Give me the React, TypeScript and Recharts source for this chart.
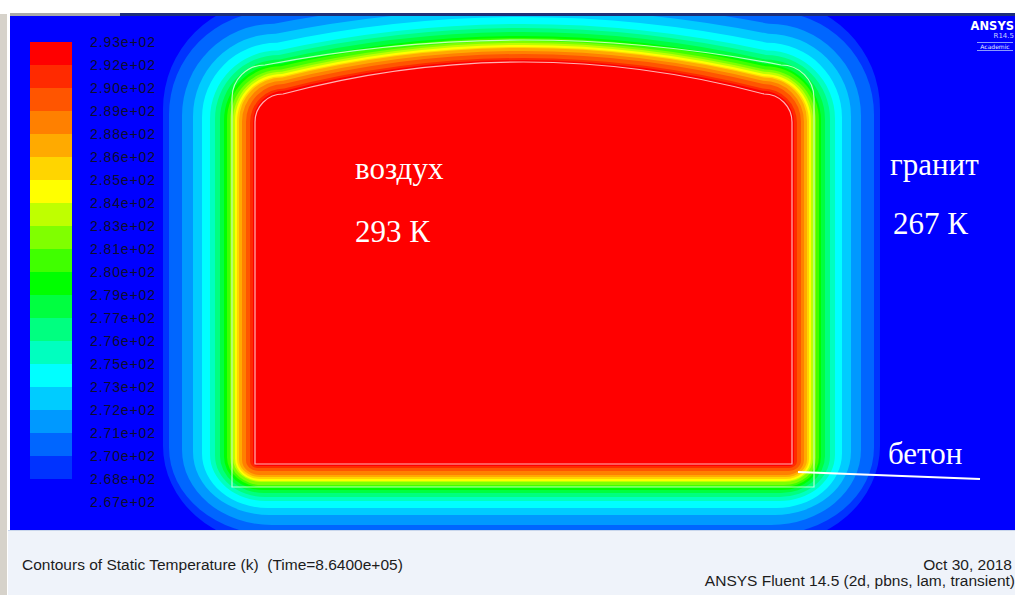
import React from 'react'
import { ComposedChart, BarChart, Bar, XAxis, YAxis, ReferenceArea, ReferenceLine } from 'recharts'

// contour bands, hottest first; outer edge of each band in picture coordinates
const bandColors = [
  '#ff0000', '#ff2a00', '#ff5500', '#ff8000', '#ffaa00', '#ffd500', '#ffff00',
  '#bfff00', '#80ff00', '#40ff00', '#00ff00', '#00ff40', '#00ff80', '#00ffbf',
  '#00ffff', '#00ccff', '#0099ff', '#0066ff', '#0033ff',
]
const bandLeft = [253, 250, 246, 242, 239, 237, 235, 233, 230, 227, 224, 220, 215, 210, 202, 193, 182, 169, 163]
const bandRight = [794, 797, 801, 804, 807, 809, 811, 813, 816, 819, 821, 825, 830, 835, 842, 851, 861, 874, 880]
const bandTop = [60, 58, 54, 51, 48, 47, 45, 43, 41, 38, 36, 32, 28, 24, 17, 9, 0, -11, -21]
const bandBottom = [466, 468, 471, 475, 477, 479, 481, 482, 485, 487, 490, 493, 497, 501, 508, 515, 525, 535, 545]

// air / concrete boundaries (white outlines)
const wallLeft = [255, 232]
const wallRight = [792, 814]
const wallTop = [62, 40]
const wallBottom = [464, 487]

const legendLabels = [
  '2.93e+02', '2.92e+02', '2.90e+02', '2.89e+02', '2.88e+02', '2.86e+02', '2.85e+02',
  '2.84e+02', '2.83e+02', '2.81e+02', '2.80e+02', '2.79e+02', '2.77e+02', '2.76e+02',
  '2.75e+02', '2.73e+02', '2.72e+02', '2.71e+02', '2.70e+02', '2.68e+02', '2.67e+02',
]
const legendColors = [...bandColors, '#0000ff']
const legendRow = [Object.fromEntries(legendColors.map((c, i) => [`b${i}`, 1]))]
const legendTicks = legendLabels.map((_, i) => i)

const pointer = [{ x: 798, y: 472 }, { x: 980, y: 479 }]

const airLeft = wallLeft[0]
const airBottom = wallBottom[0]

function tunnelPath(x: number, y: number, w: number, h: number, rtx: number, rty: number, sag: number, rbx: number, rby: number) {
  const b = y + h
  const r = x + w
  return [
    `M${x},${b - rby}`,
    `L${x},${y + sag + rty}`,
    `A${rtx},${rty} 0 0 1 ${x + rtx},${y + sag}`,
    `Q${x + w / 2},${y - sag} ${r - rtx},${y + sag}`,
    `A${rtx},${rty} 0 0 1 ${r},${y + sag + rty}`,
    `L${r},${b - rby}`,
    rbx > 0 ? `A${rbx},${rby} 0 0 1 ${r - rbx},${b}` : '',
    `L${x + rbx},${b}`,
    rbx > 0 ? `A${rbx},${rby} 0 0 1 ${x},${b - rby}` : '',
    'Z',
  ].join(' ')
}

const bandShape = (k: number) => (p: any) => {
  const sx = p.width / (bandRight[k] - bandLeft[k])
  const sy = p.height / (bandBottom[k] - bandTop[k])
  const dx = (airLeft - bandLeft[k]) * sx
  const db = (bandBottom[k] - airBottom) * sy
  const rt = 30 + 0.85 * dx
  const sag = 31 - 0.1 * dx
  return <path d={tunnelPath(p.x, p.y, p.width, p.height, rt, rt, sag, 2 + 1.2 * dx, 2 + 1.2 * db)} fill={bandColors[k]} />
}

const wallShape = (k: number) => (p: any) => {
  const rt = k === 0 ? 28 : 33
  const sag = k === 0 ? 32 : 25
  return (
    <path
      d={tunnelPath(p.x, p.y, p.width, p.height, rt, rt, sag, 0, 0)}
      fill="none"
      stroke="#ffffff"
      strokeOpacity={0.7}
      strokeWidth={1.2}
    />
  )
}

const sansFont = 'Liberation Sans, Arial, sans-serif'
const serif = { position: 'absolute' as const, color: '#fff', fontFamily: 'Liberation Serif, DejaVu Serif, serif', fontSize: 31, lineHeight: '31px', whiteSpace: 'nowrap' as const }
const sans = { position: 'absolute' as const, color: '#1c1c1c', fontFamily: sansFont, fontSize: 15.5, lineHeight: '16px', whiteSpace: 'pre' as const }

export default function App() {
  return (
    <div style={{ position: 'absolute', left: 0, top: 0, width: 1015, height: 595, background: '#ffffff', overflow: 'hidden' }}>
      <div style={{ position: 'absolute', left: 0, top: 14, width: 7, height: 581, background: '#d6d2ca' }} />
      <div style={{ position: 'absolute', left: 10, top: 13, width: 1005, height: 3, background: '#1e2f78' }} />
      <div style={{ position: 'absolute', left: 10, top: 13, width: 110, height: 3, background: '#a9a9a9' }} />

      <div style={{ position: 'absolute', left: 10, top: 16, width: 1005, height: 514, overflow: 'hidden', background: '#0000ff' }}>
        <ComposedChart width={1005} height={514} margin={{ top: 0, right: 0, bottom: 0, left: 0 }}>
          <XAxis type="number" dataKey="x" domain={[10, 1015]} hide allowDataOverflow />
          <YAxis type="number" dataKey="y" domain={[16, 530]} reversed hide allowDataOverflow />
          {bandColors.map((_, i) => bandColors.length - 1 - i).map((k) => (
            <ReferenceArea
              key={`band-${k}`}
              x1={bandLeft[k]}
              x2={bandRight[k]}
              y1={bandTop[k]}
              y2={bandBottom[k]}
              ifOverflow="visible"
              shape={bandShape(k)}
            />
          ))}
          {wallLeft.map((_, k) => (
            <ReferenceArea
              key={`wall-${k}`}
              x1={wallLeft[k]}
              x2={wallRight[k]}
              y1={wallTop[k]}
              y2={wallBottom[k]}
              ifOverflow="visible"
              shape={wallShape(k)}
            />
          ))}
          <ReferenceLine segment={pointer} stroke="#ffffff" strokeWidth={2} ifOverflow="visible" />
        </ComposedChart>
      </div>

      <div style={{ position: 'absolute', left: 30, top: 32, fontFamily: sansFont }}>
        <BarChart width={160} height={480} data={legendRow} margin={{ top: 10, right: 0, bottom: 10, left: 0 }} barCategoryGap={0}>
          <XAxis hide />
          <YAxis
            orientation="right"
            type="number"
            domain={[0, 20]}
            ticks={legendTicks}
            interval={0}
            width={118}
            tickLine={false}
            axisLine={false}
            tickMargin={12}
            tickFormatter={(v: number) => legendLabels[20 - v]}
            tick={{ fill: '#0e0e2e', fontSize: 14, fontFamily: sansFont, letterSpacing: 0.9 }}
          />
          {legendColors.map((_, i) => legendColors.length - 1 - i).map((k) => (
            <Bar key={k} dataKey={`b${k}`} stackId="a" fill={legendColors[k]} isAnimationActive={false} />
          ))}
        </BarChart>
      </div>

      <div style={{ ...serif, left: 355, top: 153 }}>воздух</div>
      <div style={{ ...serif, left: 355, top: 216 }}>293 К</div>
      <div style={{ ...serif, left: 890, top: 149 }}>гранит</div>
      <div style={{ ...serif, left: 893, top: 208 }}>267 К</div>
      <div style={{ ...serif, left: 888, top: 438 }}>бетон</div>

      <div style={{ position: 'absolute', right: 1, top: 20, color: '#fff', fontFamily: 'DejaVu Sans, sans-serif', fontWeight: 700, fontSize: 11.5, lineHeight: '13px' }}>ANSYS</div>
      <div style={{ position: 'absolute', right: 1, top: 32, color: '#c9d2ff', fontFamily: 'DejaVu Sans, sans-serif', fontSize: 7, lineHeight: '8px' }}>R14.5</div>
      <div style={{ position: 'absolute', left: 977, top: 42, width: 36, textAlign: 'center', color: '#e6ebff', fontFamily: 'DejaVu Sans, sans-serif', fontSize: 6, lineHeight: '7px', borderTop: '1px solid #8a9bff', borderBottom: '1px solid #8a9bff' }}>Academic</div>

      <div style={{ position: 'absolute', left: 8, top: 530, width: 1007, height: 65, background: '#eff3fa', borderTop: '1px solid #c9d6ec' }} />
      <div style={{ ...sans, left: 22, top: 557 }}>Contours of Static Temperature (k)  (Time=8.6400e+05)</div>
      <div style={{ ...sans, right: 3, top: 557 }}>Oct 30, 2018</div>
      <div style={{ ...sans, right: 0, top: 573 }}>ANSYS Fluent 14.5 (2d, pbns, lam, transient)</div>
    </div>
  )
}
